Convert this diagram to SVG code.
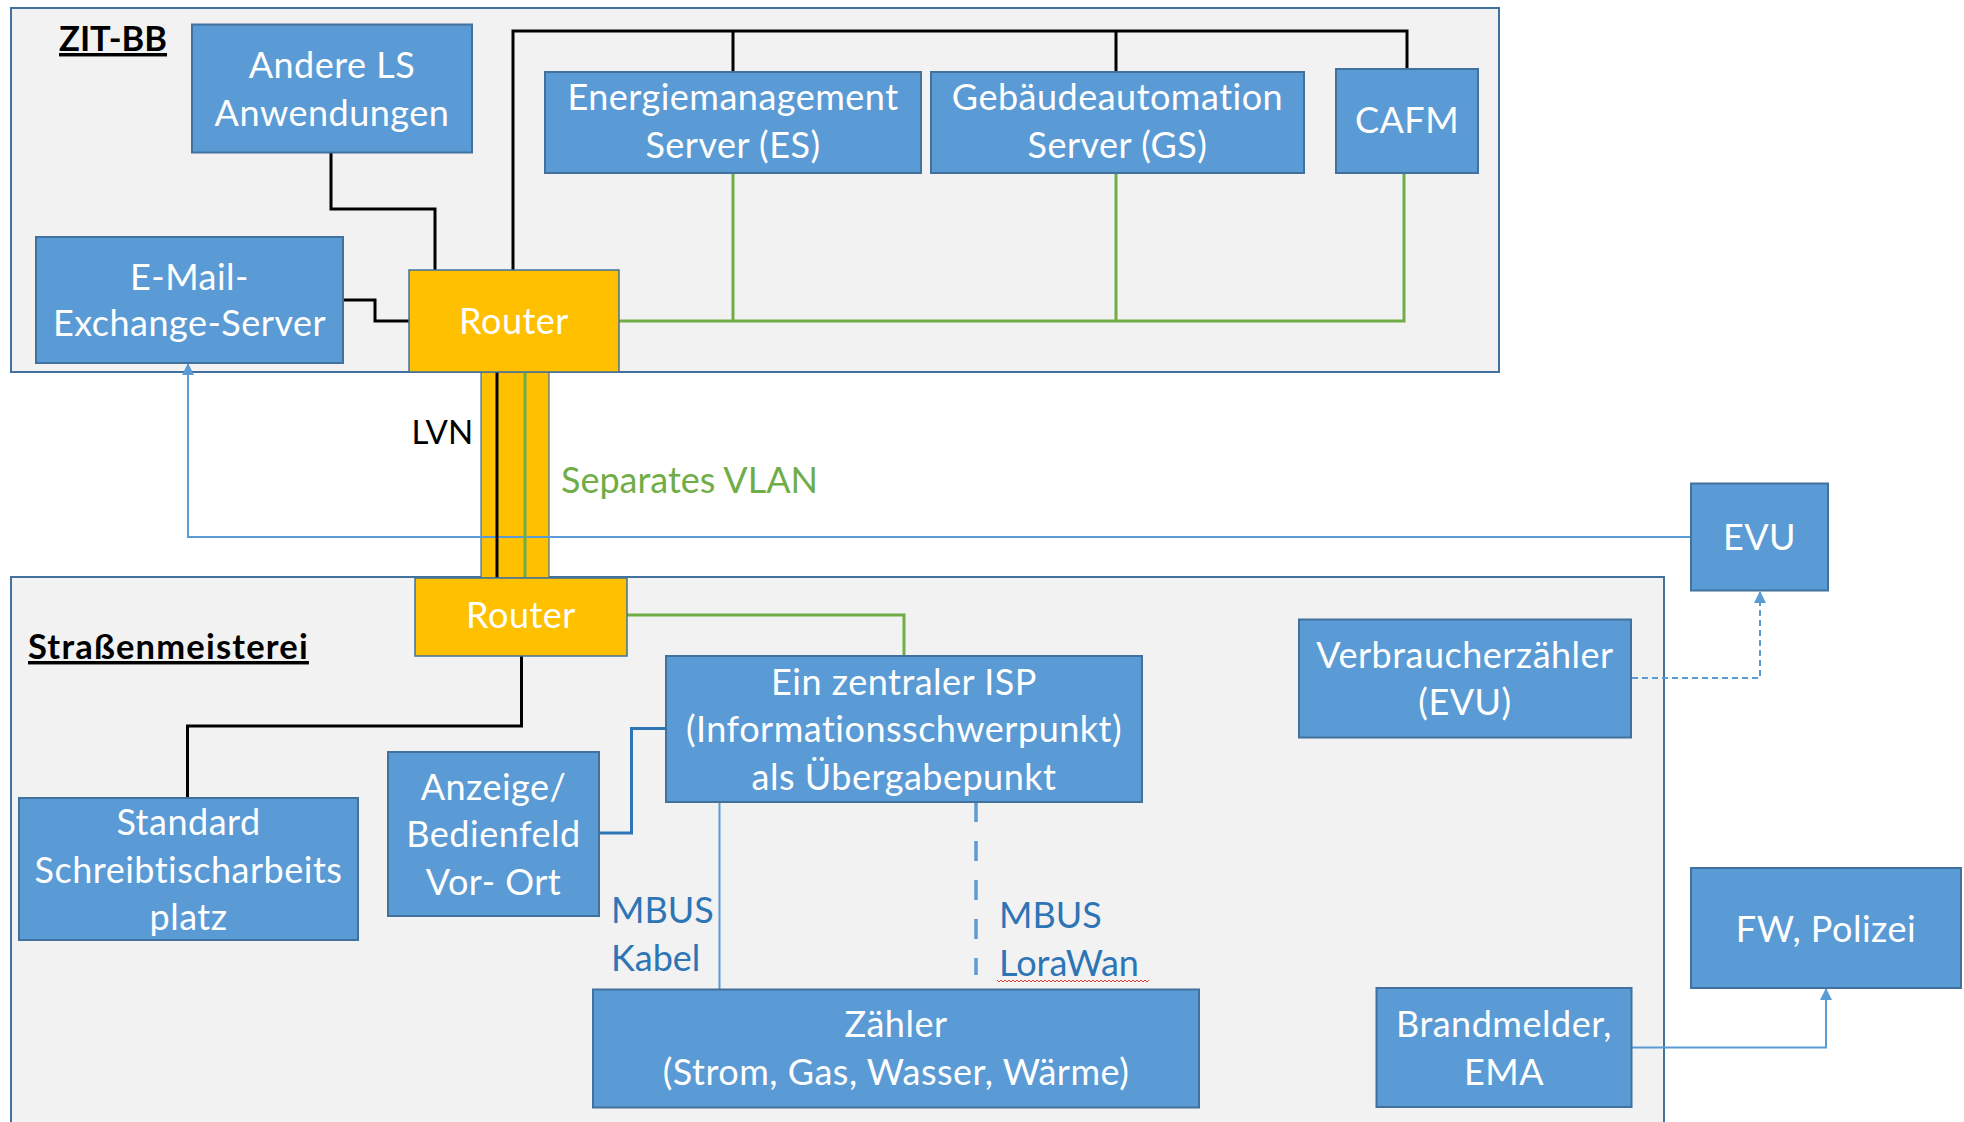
<svg xmlns="http://www.w3.org/2000/svg" width="1964" height="1122" viewBox="0 0 1964 1122">
<defs>
<style>
.container{fill:#F2F2F2;stroke:#41719C;stroke-width:2}
.box{fill:#5B9BD5;stroke:#41719C;stroke-width:2}
.router{fill:#FFC000;stroke:#41719C;stroke-width:1.5}
.t{font-family:Lato,"Liberation Sans",sans-serif;font-size:36px;letter-spacing:0.5px;fill:#FFFFFF;text-anchor:middle}
.title{font-family:Lato,"Liberation Sans",sans-serif;font-size:34.5px;font-weight:bold;fill:#000000;text-decoration:underline}
.lbl{font-family:Lato,"Liberation Sans",sans-serif;font-size:36px}
.blk{fill:none;stroke:#000000;stroke-width:3}
.grn{fill:none;stroke:#70AD47;stroke-width:3}
.dblue{fill:none;stroke:#2E75B6;stroke-width:3}
.lblue{fill:none;stroke:#5B9BD5;stroke-width:2}
</style>
<marker id="arr" markerUnits="userSpaceOnUse" markerWidth="12" markerHeight="12" refX="11" refY="6" orient="auto" viewBox="0 0 12 12">
<path d="M0,0 L12,6 L0,12 z" fill="#5B9BD5"/>
</marker>
</defs>
<rect width="1964" height="1122" fill="#FFFFFF"/>

<g id="zit-bb">
<rect class="container" x="11" y="8" width="1488" height="364"/>
<text class="title" x="59" y="51">ZIT-BB</text>
</g>
<g id="strassenmeisterei">
<rect class="container" x="11" y="577" width="1653" height="560"/>
<text class="title" x="28" y="659" letter-spacing="1.2">Straßenmeisterei</text>
</g>

<g id="band">
<rect x="481" y="372" width="68" height="206" fill="#FFC000" stroke="#41719C" stroke-width="1.2"/>
</g>

<g id="connectors">
<path class="blk" d="M331 152 V209 H435 V270"/>
<path class="blk" d="M343 300 H375 V321 H409"/>
<path class="blk" d="M513 270 V31 H1407 V69"/>
<path class="blk" d="M733 31 V72"/>
<path class="blk" d="M1116 31 V72"/>
<path class="grn" d="M619 321 H1404 V173"/>
<path class="grn" d="M733 173 V321"/>
<path class="grn" d="M1116 173 V321"/>
<path class="lblue" d="M1691 537 H188 V364" marker-end="url(#arr)"/>
<path class="blk" d="M497 372 V578"/>
<path class="grn" d="M525 372 V578"/>
<path class="grn" d="M627 615 H904 V656"/>
<path class="blk" d="M521.5 656 V726 H187.5 V798"/>
<path class="dblue" d="M599 833 H631.5 V728.5 H666"/>
<path class="lblue" d="M719.5 802 V989.5"/>
<path d="M976 802 V975" fill="none" stroke="#5B9BD5" stroke-width="3.5" stroke-dasharray="20 19"/>
<path class="lblue" d="M1632 678 H1760 V592" stroke-dasharray="6 4" marker-end="url(#arr)"/>
<path class="lblue" d="M1632 1047.5 H1826 V989" marker-end="url(#arr)"/>
</g>

<g id="andere-ls">
<rect class="box" x="192" y="24.5" width="280" height="128"/>
<text class="t" x="332" y="78">Andere LS</text>
<text class="t" x="332" y="126">Anwendungen</text>
</g>
<g id="email">
<rect class="box" x="36" y="237" width="307" height="126"/>
<text class="t" x="189.5" y="289.5">E-Mail-</text>
<text class="t" x="189.5" y="336">Exchange-Server</text>
</g>
<g id="router-zit">
<rect class="router" x="409" y="270" width="210" height="102"/>
<text class="t" x="514" y="333.5">Router</text>
</g>
<g id="es">
<rect class="box" x="545" y="72" width="376" height="101"/>
<text class="t" x="733" y="110">Energiemanagement</text>
<text class="t" x="733" y="157.5">Server (ES)</text>
</g>
<g id="gs">
<rect class="box" x="931" y="72" width="373" height="101"/>
<text class="t" x="1117.5" y="110">Gebäudeautomation</text>
<text class="t" x="1117.5" y="157.5">Server (GS)</text>
</g>
<g id="cafm">
<rect class="box" x="1336" y="69" width="142" height="104"/>
<text class="t" x="1407" y="133">CAFM</text>
</g>
<g id="router-sm">
<rect class="router" x="415" y="578" width="212" height="78"/>
<text class="t" x="521" y="628">Router</text>
</g>
<g id="standard">
<rect class="box" x="19" y="798" width="339" height="142"/>
<text class="t" x="188.5" y="835">Standard</text>
<text class="t" x="188.5" y="882.5">Schreibtischarbeits</text>
<text class="t" x="188.5" y="930">platz</text>
</g>
<g id="anzeige">
<rect class="box" x="388" y="752" width="211" height="164"/>
<text class="t" x="493.5" y="799.5">Anzeige/</text>
<text class="t" x="493.5" y="847">Bedienfeld</text>
<text class="t" x="493.5" y="894.5">Vor- Ort</text>
</g>
<g id="isp">
<rect class="box" x="666" y="656" width="476" height="146"/>
<text class="t" x="904" y="694.5">Ein zentraler ISP</text>
<text class="t" x="904" y="742">(Informationsschwerpunkt)</text>
<text class="t" x="904" y="789.5">als Übergabepunkt</text>
</g>
<g id="zaehler">
<rect class="box" x="593" y="989.5" width="606" height="118"/>
<text class="t" x="896" y="1037">Zähler</text>
<text class="t" x="896" y="1084.5">(Strom, Gas, Wasser, Wärme)</text>
</g>
<g id="verbraucher">
<rect class="box" x="1299" y="619.5" width="332" height="118"/>
<text class="t" x="1465" y="668">Verbraucherzähler</text>
<text class="t" x="1465" y="715">(EVU)</text>
</g>
<g id="brandmelder">
<rect class="box" x="1376.5" y="988" width="255" height="119"/>
<text class="t" x="1504" y="1037">Brandmelder,</text>
<text class="t" x="1504" y="1085">EMA</text>
</g>
<g id="evu">
<rect class="box" x="1691" y="483.5" width="137" height="107"/>
<text class="t" x="1759.5" y="550">EVU</text>
</g>
<g id="fw-polizei">
<rect class="box" x="1691" y="868" width="270" height="120"/>
<text class="t" x="1826" y="942">FW, Polizei</text>
</g>

<g id="labels">
<text class="lbl" x="411.5" y="444" style="font-size:33px" fill="#000000">LVN</text>
<text class="lbl" x="561" y="493" fill="#70AD47">Separates VLAN</text>
<text class="lbl" x="611" y="923" fill="#2E75B6">MBUS</text>
<text class="lbl" x="611" y="971" fill="#2E75B6">Kabel</text>
<text class="lbl" x="999" y="928" fill="#2E75B6">MBUS</text>
<text class="lbl" x="999" y="976" fill="#2E75B6">LoraWan</text>
<path d="M997 980 l2 2 l2 -2 l2 2 l2 -2 l2 2 l2 -2 l2 2 l2 -2 l2 2 l2 -2 l2 2 l2 -2 l2 2 l2 -2 l2 2 l2 -2 l2 2 l2 -2 l2 2 l2 -2 l2 2 l2 -2 l2 2 l2 -2 l2 2 l2 -2 l2 2 l2 -2 l2 2 l2 -2 l2 2 l2 -2 l2 2 l2 -2 l2 2 l2 -2 l2 2 l2 -2 l2 2 l2 -2 l2 2 l2 -2 l2 2 l2 -2 l2 2 l2 -2 l2 2 l2 -2 l2 2 l2 -2 l2 2 l2 -2 l2 2 l2 -2 l2 2 l2 -2 l2 2 l2 -2 l2 2 l2 -2 l2 2 l2 -2 l2 2 l2 -2 l2 2 l2 -2 l2 2 l2 -2 l2 2 l2 -2 l2 2 l2 -2 l2 2 l2 -2 l2 2 l2 -2" fill="none" stroke="#E03C31" stroke-width="1"/>
</g>
</svg>
